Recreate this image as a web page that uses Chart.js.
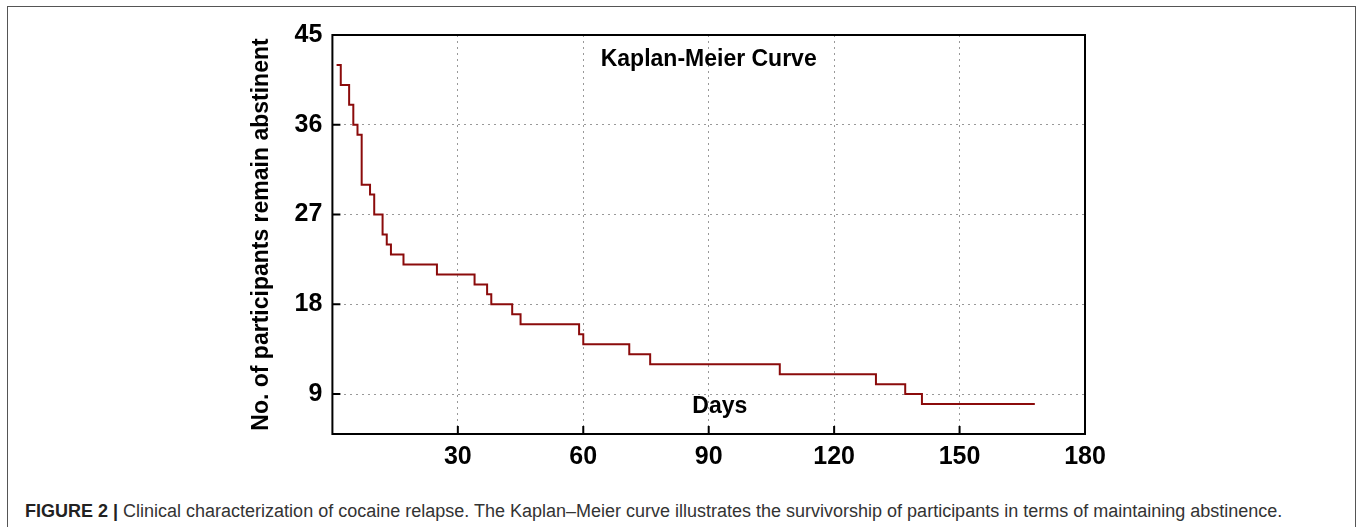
<!DOCTYPE html>
<html>
<head>
<meta charset="utf-8">
<script src="https://cdn.jsdelivr.net/npm/chart.js@4/dist/chart.umd.min.js"></script>
<style>
  body { margin: 0; background: #fff; width: 1357px; height: 527px; overflow: hidden; position: relative; }
  #frame { position: absolute; left: 7px; top: 6px; width: 1347px; height: 560px; border: 1px solid #555; }
  #myChart { position: absolute; left: 0; top: 0; }
  #caption { position: absolute; left: 25px; top: 501px; font-family: "Liberation Sans", Arial, sans-serif; font-size: 18px; color: #333; white-space: nowrap; }
  #caption b { color: #222; }
</style>
</head>
<body>
<div id="frame"></div>
<canvas id="myChart" width="1357" height="480"></canvas>
<div id="caption"><b>FIGURE 2 |</b> Clinical characterization of cocaine relapse. The Kaplan–Meier curve illustrates the survivorship of participants in terms of maintaining abstinence.</div>
<script>
// days where the number of abstinent participants changes
const days = [1, 2, 4, 5, 6, 7, 9, 10, 12, 13, 14, 17, 25, 34, 37, 38, 43, 45, 59, 60, 71, 76, 107, 130, 137, 141, 168];
const abstinent = [42, 40, 38, 36, 35, 30, 29, 27, 25, 24, 23, 22, 21, 20, 19, 18, 17, 16, 15, 14, 13, 12, 11, 10, 9, 8, 8];
const xTicks = [30, 60, 90, 120, 150, 180];
const yTicks = [9, 18, 27, 36, 45];

const points = [];
for (let i = 0; i < days.length; i++) {
    points.push({x: days[i], y: abstinent[i]});
}

// black box round the plot, inward tick marks and the two labels inside the plot
const plotBox = {
    id: 'plotBox',
    afterDraw(chart) {
        const ctx = chart.ctx;
        const a = chart.chartArea;
        const xs = chart.scales.x, ys = chart.scales.y;
        ctx.save();
        ctx.strokeStyle = '#000';
        ctx.lineWidth = 2;
        ctx.beginPath();
        xTicks.forEach(v => {
            if (v >= 180) return;
            const px = xs.getPixelForValue(v);
            ctx.moveTo(px, a.bottom);
            ctx.lineTo(px, a.bottom - 8);
        });
        yTicks.forEach(v => {
            if (v >= 45) return;
            const py = ys.getPixelForValue(v);
            ctx.moveTo(a.left, py);
            ctx.lineTo(a.left + 8, py);
        });
        ctx.stroke();
        ctx.strokeRect(a.left, a.top, a.right - a.left, a.bottom - a.top);

        ctx.fillStyle = '#000';
        ctx.font = 'bold 23px "Liberation Sans", Arial, sans-serif';
        ctx.textAlign = 'center';
        ctx.textBaseline = 'middle';
        ctx.fillText('Kaplan-Meier Curve', a.left + (a.right - a.left) * 0.5, a.top + 25);
        ctx.fillText('Days', a.left + (a.right - a.left) * 0.5147, a.bottom - 27);
        ctx.restore();
    }
};

new Chart('myChart', {
    type: 'line',
    data: {
        datasets: [{
            label: 'Abstinent',
            data: points,
            borderColor: '#8b0b0b',
            borderWidth: 2,
            stepped: true,
            pointRadius: 0,
            fill: false
        }]
    },
    options: {
        responsive: false,
        animation: false,
        devicePixelRatio: 1,
        layout: {padding: {left: 248, top: 35, right: 272, bottom: 0}},
        plugins: {
            legend: {display: false},
            tooltip: {enabled: false}
        },
        scales: {
            x: {
                type: 'linear',
                min: 0,
                max: 180,
                afterBuildTicks: (scale) => { scale.ticks = xTicks.map(v => ({value: v})); },
                ticks: {
                    color: '#000',
                    padding: 8,
                    maxRotation: 0,
                    font: {family: '"Liberation Sans", Arial, sans-serif', size: 25, weight: 'bold'}
                },
                grid: {
                    drawTicks: false,
                    color: (c) => c.tick && c.tick.value >= 180 ? 'rgba(0,0,0,0)' : '#999',
                    lineWidth: 1
                },
                border: {display: false, dash: [2, 4]}
            },
            y: {
                type: 'linear',
                min: 5,
                max: 45,
                afterBuildTicks: (scale) => { scale.ticks = yTicks.map(v => ({value: v})); },
                ticks: {
                    color: '#000',
                    padding: 10,
                    font: {family: '"Liberation Sans", Arial, sans-serif', size: 25, weight: 'bold'}
                },
                grid: {
                    drawTicks: false,
                    color: (c) => c.tick && c.tick.value >= 45 ? 'rgba(0,0,0,0)' : '#999',
                    lineWidth: 1
                },
                border: {display: false, dash: [2, 4]},
                title: {
                    display: true,
                    text: 'No. of participants remain abstinent',
                    color: '#000',
                    padding: {top: 0, bottom: 9},
                    font: {family: '"Liberation Sans", Arial, sans-serif', size: 23, weight: 'bold'}
                }
            }
        }
    },
    plugins: [plotBox]
});
</script>
</body>
</html>
